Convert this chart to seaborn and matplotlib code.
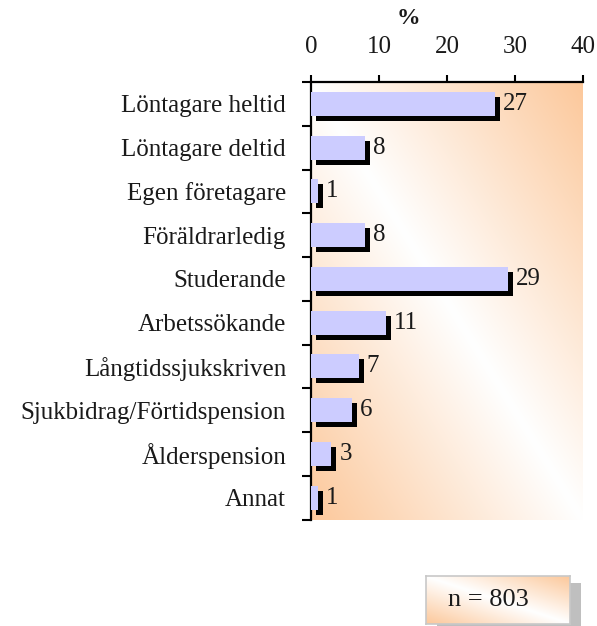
import numpy as np
import pandas as pd
import seaborn as sns
import matplotlib
matplotlib.use("Agg")
import matplotlib.pyplot as plt
import matplotlib.transforms as mtransforms
from matplotlib.patches import Rectangle
from matplotlib.colors import to_rgb

# ---- data ----
categories = ["Löntagare heltid", "Löntagare deltid", "Egen företagare",
              "Föräldrarledig", "Studerande", "Arbetssökande",
              "Långtidssjukskriven", "Sjukbidrag/Förtidspension",
              "Ålderspension", "Annat"]
values = [27, 8, 1, 8, 29, 11, 7, 6, 3, 1]
x_ticks = [0, 10, 20, 30, 40]
unit_label = "%"
sample_label = "n = 803"

df = pd.DataFrame({"kategori": categories, "andel": values})

sns.set_theme(style="white")
plt.rcParams["font.family"] = ["Liberation Serif", "DejaVu Serif"]
FS = 18
TXT = "#1a1a1a"

W, H = 597, 626
fig = plt.figure(figsize=(W / 100, H / 100), dpi=100)
L, R, T, B = 311, 583, 82, 519.5
ax = fig.add_axes([L / W, 1 - B / H, (R - L) / W, (B - T) / H])

PEACH = np.array(to_rgb("#FCC89B"))


def diagonal_fill(nx, ny):
    """White band along the top-left/bottom-right diagonal, peach in the other corners."""
    u = np.linspace(0, 1, nx)[None, :]
    v = np.linspace(1, 0, ny)[:, None]
    t = (u + v) / 2.0
    a = np.abs(2 * t - 1)[..., None]
    return (1 - a) * np.ones(3) + a * PEACH


ax.imshow(diagonal_fill(300, 480), extent=[0, 1, 0, 1], transform=ax.transAxes,
          origin="upper", aspect="auto", zorder=0, interpolation="bilinear")

# shadow bars, then the lavender bars on top
sns.barplot(data=df, x="andel", y="kategori", orient="h", color="black",
            saturation=1, width=0.55, linewidth=0, ax=ax, zorder=2)
shift = mtransforms.ScaledTranslation(5 / 100, -5 / 100, fig.dpi_scale_trans)
for p in ax.patches:
    p.set_transform(ax.transData + shift)
sns.barplot(data=df, x="andel", y="kategori", orient="h", color="#CCCCFF",
            saturation=1, width=0.55, linewidth=0, ax=ax, zorder=3)

for i, v in enumerate(values):
    ax.annotate(f"{v}", xy=(v, i), xytext=(8, 0), textcoords="offset pixels",
                ha="left", va="center", fontsize=FS, color=TXT, zorder=4)

ax.set_xlim(0, 40)
ax.set_ylim(len(categories) - 0.5, -0.5)
ax.set_xlabel("")
ax.set_ylabel("")

ax.xaxis.tick_top()
ax.set_xticks(x_ticks)
ax.set_xticklabels([str(t) for t in x_ticks], fontsize=FS, color=TXT)
ax.tick_params(axis="x", which="major", direction="out", length=5, width=1.5,
               color="black", pad=12, top=True, bottom=False)

ax.set_yticks(range(len(categories)))
ax.set_yticklabels(categories, fontsize=FS, color=TXT)
ax.tick_params(axis="y", which="major", length=0, pad=18)
ax.set_yticks(np.arange(-0.5, len(categories), 1.0), minor=True)
ax.tick_params(axis="y", which="minor", direction="out", length=6.5, width=1.5,
               color="black", left=True)

for side in ["right", "bottom"]:
    ax.spines[side].set_visible(False)
for side in ["left", "top"]:
    ax.spines[side].set_visible(True)
    ax.spines[side].set_color("black")
    ax.spines[side].set_linewidth(1.6)
ax.grid(False)

fig.text(408 / W, 1 - 19 / H, unit_label, fontsize=17, fontweight="bold",
         ha="center", va="center", color=TXT)

# sample size box with drop shadow
bx0, by0, bx1, by1 = 426, 576, 570, 624
fig.patches.append(Rectangle(((bx0 + 11) / W, 1 - (by1 + 7) / H),
                             (bx1 - bx0) / W, (by1 - by0) / H,
                             transform=fig.transFigure, facecolor="#BFBFBF",
                             edgecolor="none", zorder=1))
box_ax = fig.add_axes([bx0 / W, 1 - by1 / H, (bx1 - bx0) / W, (by1 - by0) / H])
box_ax.imshow(diagonal_fill(150, 50), extent=[0, 1, 0, 1], aspect="auto",
              origin="upper", interpolation="bilinear")
box_ax.set_xlim(0, 1)
box_ax.set_ylim(0, 1)
box_ax.set_xticks([])
box_ax.set_yticks([])
for s in box_ax.spines.values():
    s.set_visible(True)
    s.set_color("#C8C8C8")
    s.set_linewidth(1.2)
box_ax.text(0.43, 0.5, sample_label, fontsize=19, ha="center", va="center",
            transform=box_ax.transAxes, color=TXT)
box_ax.set_zorder(2)

fig.savefig("out.png", dpi=100)
